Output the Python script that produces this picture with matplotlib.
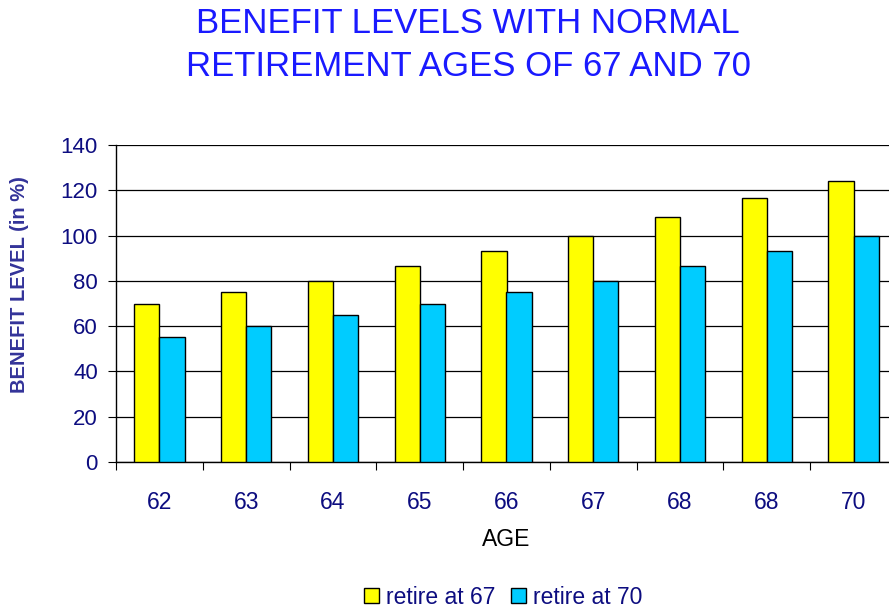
import matplotlib
matplotlib.use("Agg")
import matplotlib.pyplot as plt
import numpy as np
from matplotlib.patches import Patch

plt.rcParams['font.family'] = ['Liberation Sans', 'DejaVu Sans']

ages = ["62", "63", "64", "65", "66", "67", "68", "68", "70"]
retire_67 = [70, 75, 80, 86.7, 93.3, 100, 108.3, 116.4, 124.1]
retire_70 = [55, 60, 65, 70, 75, 80, 86.7, 93.3, 100]
series_names = ["retire at 67", "retire at 70"]
yticks = [0, 20, 40, 60, 80, 100, 120, 140]

navy = "#0d0d80"
fig = plt.figure(figsize=(8.89, 6.14), dpi=100)
ax = fig.add_axes([116/889, 1-462/614, 781/889, (462-145)/614])

x = np.arange(len(ages))
w = 0.29
ax.bar(x - w/2, retire_67, w, color="#ffff00", edgecolor="black", linewidth=1, zorder=3)
ax.bar(x + w/2, retire_70, w, color="#00ccff", edgecolor="black", linewidth=1, zorder=3)

ax.set_xlim(-0.5, len(ages) - 0.5)
ax.set_ylim(0, 140)
ax.set_yticks(yticks)
ax.yaxis.grid(True, color="black", linewidth=0.9, zorder=0)
ax.set_axisbelow(True)
for s in ["top", "right"]:
    ax.spines[s].set_visible(False)
ax.spines["left"].set_linewidth(1)
ax.spines["bottom"].set_linewidth(1)

ax.set_xticks(np.arange(len(ages) + 1) - 0.5)
ax.set_xticklabels([])
ax.set_xticks(x, minor=True)
ax.set_xticklabels(ages, minor=True)
ax.tick_params(axis="x", which="major", length=6, direction="out", color="black")
ax.tick_params(axis="x", which="minor", length=0, pad=21, labelsize=16.5, labelcolor=navy)
ax.tick_params(axis="y", length=6, direction="out", pad=7, labelsize=16, labelcolor=navy)

fig.text(468/889, 1-45/614, "BENEFIT LEVELS WITH NORMAL\nRETIREMENT AGES OF 67 AND 70",
         ha="center", va="center", fontsize=25, color="#1a1aff", linespacing=1.35)
fig.text(20/889, 1-285/614, "BENEFIT LEVEL (in %)", rotation=90, ha="center", va="center",
         fontsize=14.5, fontweight="bold", color="#333399")
fig.text(506/889, 1-540/614, "AGE", ha="center", va="center", fontsize=16.5, color="black")

handles = [Patch(facecolor="#ffff00", edgecolor="black"), Patch(facecolor="#00ccff", edgecolor="black")]
leg = fig.legend(handles, series_names, loc="center", bbox_to_anchor=(503/889, 1-597/614),
                 ncol=2, frameon=False, fontsize=16.5, handlelength=0.65, handleheight=0.65,
                 handletextpad=0.3, columnspacing=0.7)
for t in leg.get_texts():
    t.set_color(navy)

fig.savefig("out.png", dpi=100)
